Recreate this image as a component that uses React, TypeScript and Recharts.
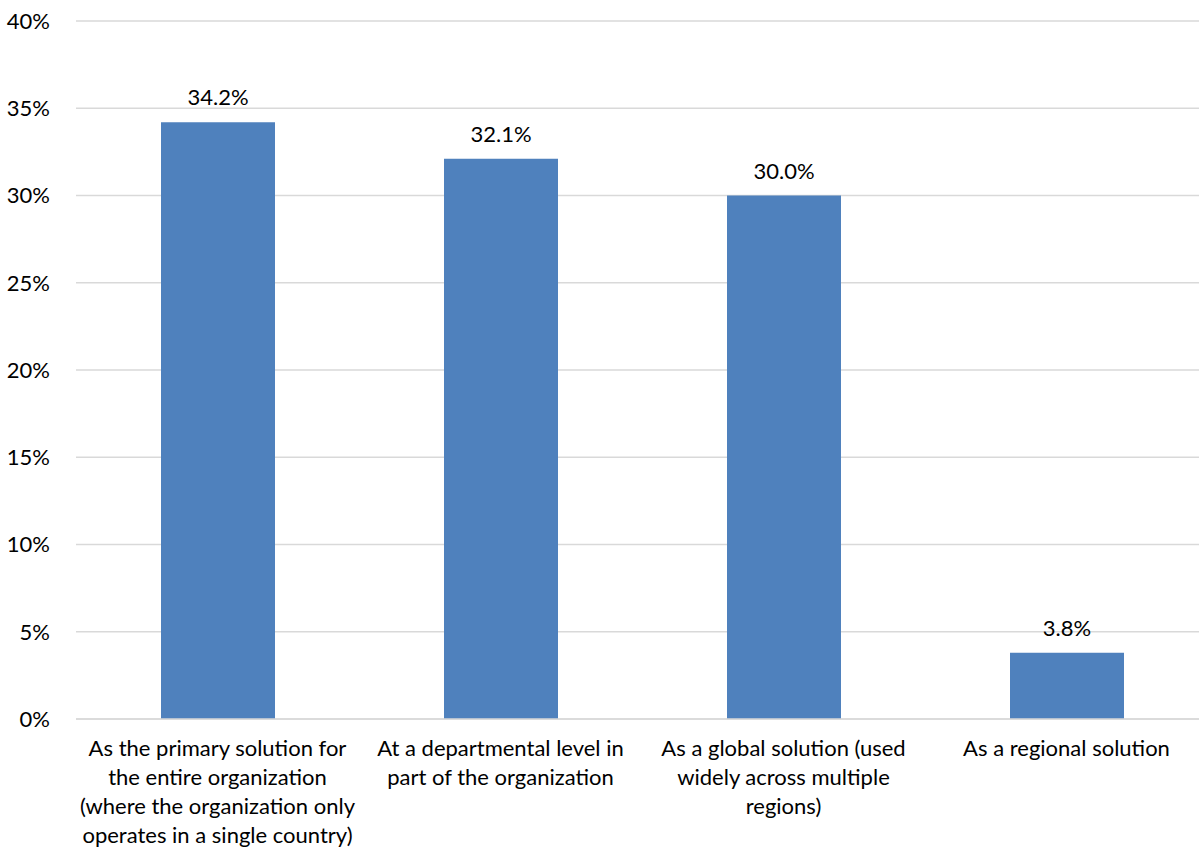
import { BarChart, Bar, XAxis, YAxis, CartesianGrid, LabelList } from 'recharts'

const categories = [
  'As the primary solution for\nthe entire organization\n(where the organization only\noperates in a single country)',
  'At a departmental level in\npart of the organization',
  'As a global solution (used\nwidely across multiple\nregions)',
  'As a regional solution',
]
const shares = [34.2, 32.1, 30.0, 3.8]
const yTicks = [0, 5, 10, 15, 20, 25, 30, 35, 40]

const data = categories.map((name, i) => ({ name, value: shares[i] }))

const FONT = 'Lato, "Open Sans", sans-serif'

function CategoryTick(props: any) {
  const { x, y, payload } = props
  const lines: string[] = String(payload.value).split('\n')
  return (
    <g transform={`translate(${x},${y})`}>
      {lines.map((line, i) => (
        <text
          key={i}
          x={0}
          y={29 + i * 29}
          textAnchor="middle"
          fontSize={22}
          fontFamily={FONT}
          fill="#000"
        >
          {line}
        </text>
      ))}
    </g>
  )
}

export default function App() {
  return (
    <div
      style={{
        position: 'absolute',
        left: 0,
        top: 0,
        width: 1199,
        height: 849,
        overflow: 'hidden',
        background: '#fff',
      }}
    >
      <BarChart
        width={1212}
        height={849}
        data={data}
        margin={{ top: 21, right: 4, left: 0, bottom: 0 }}
      >
        <CartesianGrid vertical={false} stroke="#D9D9D9" strokeWidth={1.5} />
        <XAxis
          dataKey="name"
          height={130}
          interval={0}
          tickLine={false}
          axisLine={{ stroke: '#D9D9D9', strokeWidth: 1.5 }}
          tick={<CategoryTick />}
        />
        <YAxis
          domain={[0, 40]}
          ticks={yTicks}
          width={76}
          tickLine={false}
          axisLine={false}
          tickSize={0}
          tickMargin={26}
          tickFormatter={(v: number) => `${v}%`}
          tick={{ fontSize: 22, fill: '#000', fontFamily: FONT }}
        />
        <Bar dataKey="value" fill="#4F81BD" barSize={114} isAnimationActive={false}>
          <LabelList
            dataKey="value"
            position="top"
            offset={17}
            formatter={(v: number) => `${v.toFixed(1)}%`}
            style={{ fontSize: 22, fill: '#000', fontFamily: FONT }}
          />
        </Bar>
      </BarChart>
    </div>
  )
}
